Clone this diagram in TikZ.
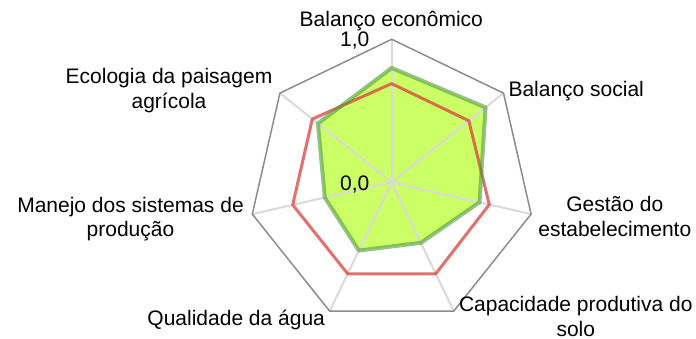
\documentclass[tikz,border=0pt]{standalone}
\usepackage{fontspec}
\setmainfont{Liberation Sans}
\definecolor{limefill}{HTML}{CCFF66}
\definecolor{serred}{HTML}{D9403A}
\definecolor{sergreen}{HTML}{4E9A3A}
\definecolor{spokegray}{HTML}{D9D9D9}
\definecolor{rimgray}{HTML}{8C8C8C}
\begin{document}
\begin{tikzpicture}[x=1pt,y=1pt,
  lbl/.style={font=\fontsize{21}{24.5}\selectfont, inner sep=0pt, align=center},
  spokeline/.style={draw=spokegray, line width=2},
  rimline/.style={draw=rimgray, line width=1.5, line join=miter},
  redline/.style={draw=serred, opacity=.75, line width=3, line join=round},
  greenline/.style={draw=sergreen, opacity=.6, line width=4, line join=round}]
\useasboundingbox (0,0) rectangle (696,338);
\begin{scope}[shift={(391.7,155.7)}]
  \coordinate (O) at (0,0);
  \foreach \k in {0,...,6} {\coordinate (v\k) at ({90-\k*360/7}:143);}
  \foreach \k/\g/\r in {0/0.80/0.69, 1/0.84/0.69, 2/0.63/0.70, 3/0.47/0.71, 4/0.53/0.71, 5/0.48/0.71, 6/0.66/0.71} {
    \coordinate (g\k) at ({90-\k*360/7}:{\g*143});
    \coordinate (r\k) at ({90-\k*360/7}:{\r*143});
  }
  \fill[limefill] (g0) -- (g1) -- (g2) -- (g3) -- (g4) -- (g5) -- (g6) -- cycle;
  \foreach \k in {0,...,6} {\draw[spokeline] (O) -- (v\k);}
  \draw[rimline] (v0) -- (v1) -- (v2) -- (v3) -- (v4) -- (v5) -- (v6) -- cycle;
  \draw[redline] (r0) -- (r1) -- (r2) -- (r3) -- (r4) -- (r5) -- (r6) -- cycle;
  \draw[greenline] (g0) -- (g1) -- (g2) -- (g3) -- (g4) -- (g5) -- (g6) -- cycle;
\end{scope}
\node[lbl, anchor=base] (eco) at (391.3,311.2) {Balanço econômico};
\node[lbl, anchor=base east] (one) at (369.5,291.6) {1,0};
\node[lbl, anchor=base east] (zero) at (369.5,148) {0,0};
\node[lbl, anchor=base west] (soc) at (508.3,241.3) {Balanço social};
\node[lbl, anchor=base] (ges) at (614.8,102) {Gestão do\\estabelecimento};
\node[lbl, anchor=base] (cap) at (575.8,2) {Capacidade produtiva do\\solo};
\node[lbl, anchor=base] (qua) at (236.2,13) {Qualidade da água};
\node[lbl, anchor=base] (man) at (130.5,101.5) {Manejo dos sistemas de\\produção};
\node[lbl, anchor=base] (ecol) at (169,229.7) {Ecologia da paisagem\\agrícola};
\end{tikzpicture}
\end{document}
